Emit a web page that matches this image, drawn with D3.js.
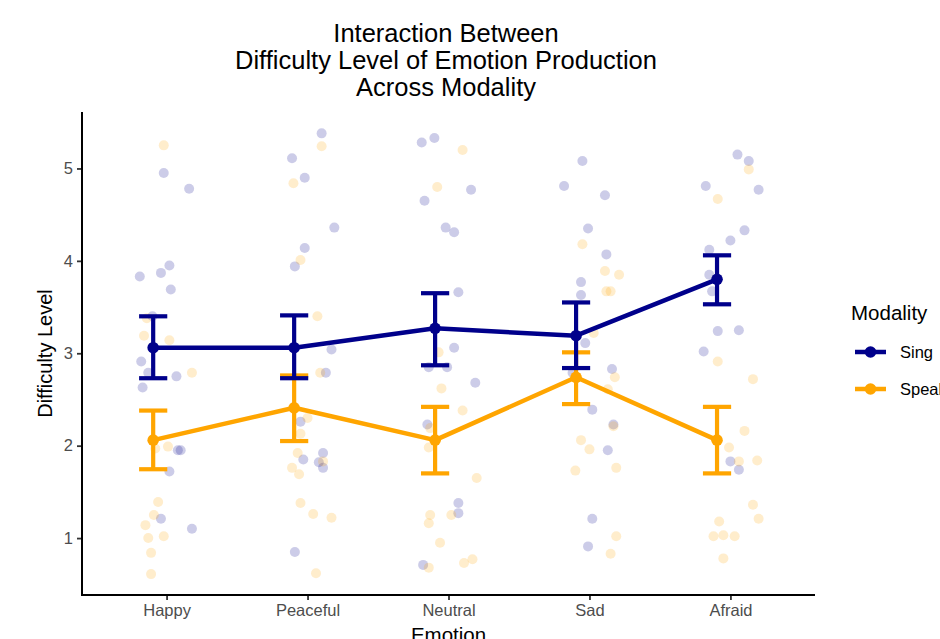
<!DOCTYPE html>
<html>
<head>
<meta charset="utf-8">
<script src="https://cdn.jsdelivr.net/npm/d3@7"></script>
<style>
  html, body { margin: 0; padding: 0; background: #fff; }
  svg { display: block; font-family: "Liberation Sans", Arial, sans-serif; }
</style>
</head>
<body>
<svg id="chart" width="940" height="639"></svg>
<script>
// ---------------- data ----------------
const emotions = ["Happy", "Peaceful", "Neutral", "Sad", "Afraid"];
const modalities = ["Sing", "Speak"];
const yTicks = [1, 2, 3, 4, 5];

const singMean  = [3.06, 3.06, 3.27, 3.19, 3.80];
const singLower = [2.73, 2.73, 2.87, 2.84, 3.53];
const singUpper = [3.40, 3.41, 3.65, 3.55, 4.06];

const speakMean  = [2.06, 2.41, 2.06, 2.74, 2.06];
const speakLower = [1.745, 2.05, 1.70, 2.45, 1.70];
const speakUpper = [2.38, 2.76, 2.42, 3.01, 2.42];

// jittered raw ratings: [emotion index, horizontal jitter (category units), rating]
const singPoints = [
  [0,-0.02,4.95],[0,0.16,4.78],[0,-0.19,3.83],[0,-0.04,3.87],[0,0.02,3.95],[0,0.03,3.69],[0,-0.10,3.40],
  [0,-0.18,2.91],[0,-0.13,2.79],[0,0.07,2.75],[0,-0.17,2.63],[0,0.08,1.95],[0,0.10,1.95],[0,0.02,1.72],
  [0,-0.04,1.21],[0,0.18,1.10],
  [1,-0.11,5.11],[1,-0.02,4.90],[1,-0.02,4.14],[1,-0.09,3.94],[1,0.10,5.38],[1,0.19,4.36],[1,0.17,3.04],
  [1,0.13,2.79],[1,-0.05,2.26],[1,-0.03,1.85],[1,0.11,1.92],[1,0.08,1.82],[1,0.11,1.76],[1,-0.09,0.85],
  [2,-0.19,5.28],[2,-0.10,5.33],[2,0.16,4.77],[2,-0.17,4.65],[2,-0.02,4.36],[2,0.04,4.31],[2,0.07,3.66],
  [2,0.04,3.06],[2,-0.14,2.85],[2,-0.01,2.85],[2,0.19,2.68],[2,-0.15,2.23],[2,0.07,1.38],[2,0.07,1.27],
  [2,-0.18,0.71],
  [3,-0.05,5.08],[3,-0.18,4.81],[3,0.11,4.71],[3,-0.01,4.35],[3,0.12,4.07],[3,-0.06,3.77],[3,-0.06,3.63],
  [3,-0.03,3.11],[3,0.16,2.83],[3,-0.12,2.79],[3,0.02,2.39],[3,0.17,2.23],[3,0.13,1.95],[3,0.02,1.21],
  [3,-0.01,0.91],
  [4,0.05,5.15],[4,0.13,5.08],[4,-0.175,4.81],[4,0.20,4.77],[4,0.10,4.33],[4,0.00,4.22],[4,-0.15,4.12],
  [4,-0.15,3.85],[4,-0.13,3.67],[4,-0.09,3.24],[4,0.06,3.25],[4,-0.19,3.02],[4,0.00,1.83],[4,0.06,1.74]
];
const speakPoints = [
  [0,-0.02,5.25],[0,-0.14,3.38],[0,-0.16,3.19],[0,0.02,3.14],[0,0.18,2.79],[0,-0.08,1.97],[0,0.01,1.99],
  [0,-0.06,1.39],[0,-0.09,1.25],[0,-0.15,1.14],[0,-0.13,1.00],[0,-0.02,1.02],[0,-0.11,0.84],[0,-0.11,0.61],
  [1,-0.10,4.84],[1,-0.05,4.01],[1,0.07,3.40],[1,0.10,5.24],[1,0.09,2.79],[1,0.00,2.30],[1,-0.05,2.13],
  [1,-0.07,1.92],[1,-0.11,1.76],[1,-0.06,1.69],[1,0.11,1.83],[1,-0.05,1.38],[1,0.04,1.26],[1,0.17,1.22],
  [1,0.06,0.62],
  [2,0.10,5.20],[2,-0.08,4.80],[2,-0.07,3.01],[2,-0.05,2.62],[2,0.10,2.38],[2,-0.13,2.19],[2,-0.14,1.98],
  [2,0.20,1.65],[2,0.02,1.25],[2,-0.13,1.25],[2,-0.14,1.16],[2,-0.06,0.95],[2,0.11,0.73],[2,0.17,0.77],
  [2,-0.14,0.68],
  [3,-0.05,4.18],[3,0.11,3.89],[3,0.21,3.85],[3,0.12,3.67],[3,0.15,3.67],[3,0.03,3.22],[3,0.18,2.74],
  [3,0.13,2.61],[3,0.17,2.21],[3,-0.06,2.06],[3,0.00,1.96],[3,-0.10,1.73],[3,0.19,1.76],[3,0.19,1.02],
  [3,0.15,0.83],
  [4,0.13,4.99],[4,-0.09,4.67],[4,-0.09,2.91],[4,0.16,2.72],[4,0.10,2.16],[4,-0.01,1.98],[4,0.06,1.83],
  [4,0.19,1.84],[4,0.16,1.36],[4,0.20,1.21],[4,-0.08,1.18],[4,-0.12,1.02],[4,-0.05,1.03],[4,0.03,1.02],
  [4,-0.05,0.78]
];

const summaryNudge = -0.095;   // summaries are drawn slightly left of each category
const colors = { Sing: "#00008B", Speak: "#FFA500" };

// ---------------- layout ----------------
const svg = d3.select("#chart");
const panel = { left: 82, right: 815, top: 112, bottom: 595 };

const x = d3.scaleLinear().domain([-0.6, 4.6]).range([panel.left, panel.right]);
const y = d3.scaleLinear().domain([0.384, 5.611]).range([panel.bottom, panel.top]);

// ---------------- jitter points ----------------
const gPts = svg.append("g");
function drawPoints(pts, col) {
  gPts.selectAll(null).data(pts).enter().append("circle")
    .attr("cx", d => x(d[0] + d[1]))
    .attr("cy", d => y(d[2]))
    .attr("r", 5)
    .attr("fill", col)
    .attr("fill-opacity", 0.2);
}
drawPoints(singPoints, colors.Sing);
drawPoints(speakPoints, colors.Speak);

// ---------------- summary lines, errorbars, means ----------------
function drawSeries(mean, lo, hi, col) {
  const g = svg.append("g");
  const idx = d3.range(emotions.length);
  const px = i => x(i + summaryNudge);
  g.append("path")
    .datum(idx)
    .attr("fill", "none")
    .attr("stroke", col)
    .attr("stroke-width", 4.5)
    .attr("stroke-linejoin", "round")
    .attr("d", d3.line().x(px).y(i => y(mean[i])));
  const cap = 0.1;
  idx.forEach(i => {
    g.append("line").attr("x1", px(i)).attr("x2", px(i)).attr("y1", y(lo[i])).attr("y2", y(hi[i]))
      .attr("stroke", col).attr("stroke-width", 4.2);
    [lo[i], hi[i]].forEach(v => {
      g.append("line").attr("x1", x(i + summaryNudge - cap)).attr("x2", x(i + summaryNudge + cap))
        .attr("y1", y(v)).attr("y2", y(v))
        .attr("stroke", col).attr("stroke-width", 4.2);
    });
    g.append("circle").attr("cx", px(i)).attr("cy", y(mean[i])).attr("r", 5.8).attr("fill", col);
  });
}
drawSeries(speakMean, speakLower, speakUpper, colors.Speak);
drawSeries(singMean, singLower, singUpper, colors.Sing);

// ---------------- axes ----------------
const yAxis = d3.axisLeft(y).tickValues(yTicks).tickSize(5).tickPadding(4).tickFormat(d3.format("d"));
const gy = svg.append("g").attr("transform", `translate(${panel.left},0)`).call(yAxis);
const xAxis = d3.axisBottom(d3.scaleOrdinal().domain(emotions).range(emotions.map((e, i) => x(i))))
  .tickSize(5).tickPadding(4);
const gx = svg.append("g").attr("transform", `translate(0,${panel.bottom})`).call(xAxis);

[gx, gy].forEach(g => {
  g.select(".domain").remove();
  g.selectAll(".tick line").attr("stroke", "#333333").attr("stroke-width", 1.8);
  g.selectAll(".tick text").attr("fill", "#4D4D4D").style("font-size", "16.5px")
    .style("font-family", "'Liberation Sans', Arial, sans-serif");
});
gx.selectAll(".tick text").attr("dy", "0.71em");

svg.append("line").attr("x1", panel.left).attr("x2", panel.left).attr("y1", panel.top).attr("y2", panel.bottom + 1)
  .attr("stroke", "#000").attr("stroke-width", 2);
svg.append("line").attr("x1", panel.left - 1).attr("x2", panel.right).attr("y1", panel.bottom).attr("y2", panel.bottom)
  .attr("stroke", "#000").attr("stroke-width", 2);

// ---------------- titles ----------------
const titleLines = ["Interaction Between", "Difficulty Level of Emotion Production", "Across Modality"];
svg.append("g").selectAll("text").data(titleLines).enter().append("text")
  .attr("x", 446).attr("y", (d, i) => 42 + i * 27)
  .attr("text-anchor", "middle").style("font-size", "25.5px").attr("fill", "#000")
  .text(d => d);

svg.append("text").attr("transform", `translate(52,${(panel.top + panel.bottom) / 2}) rotate(-90)`)
  .attr("text-anchor", "middle").style("font-size", "20px").attr("fill", "#000")
  .text("Difficulty Level");

svg.append("text").attr("x", (panel.left + panel.right) / 2).attr("y", 642)
  .attr("text-anchor", "middle").style("font-size", "20.5px").attr("fill", "#000")
  .text("Emotion");

// ---------------- legend ----------------
const lg = svg.append("g");
lg.append("text").attr("x", 851).attr("y", 320).style("font-size", "20.5px").attr("fill", "#000").text("Modality");
modalities.forEach((m, i) => {
  const cy = 352 + i * 37;
  lg.append("line").attr("x1", 855).attr("x2", 886).attr("y1", cy).attr("y2", cy)
    .attr("stroke", colors[m]).attr("stroke-width", 4.5);
  lg.append("circle").attr("cx", 870.5).attr("cy", cy).attr("r", 5.8).attr("fill", colors[m]);
  lg.append("text").attr("x", 900).attr("y", cy).attr("dy", "0.36em").style("font-size", "16.5px")
    .attr("fill", "#000").text(m);
});
</script>
</body>
</html>
